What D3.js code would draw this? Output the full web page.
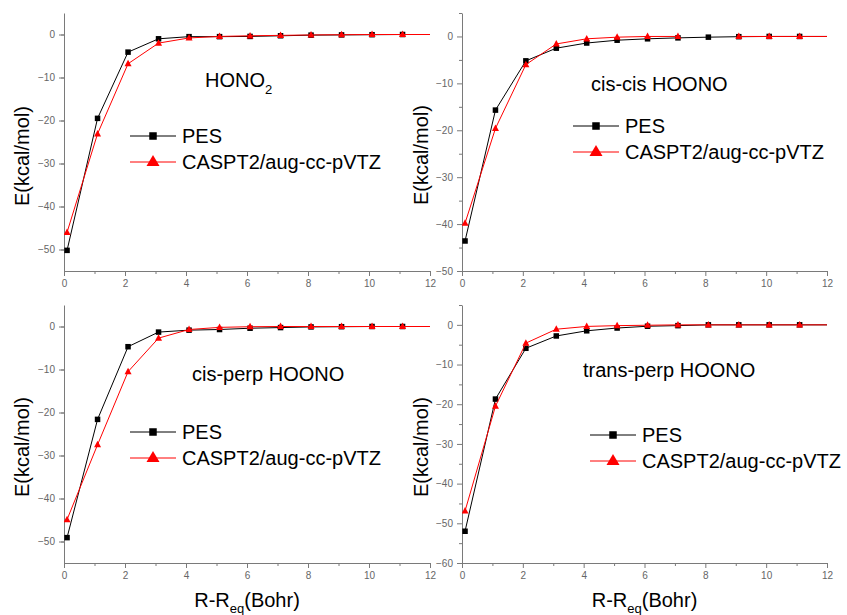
<!DOCTYPE html>
<html>
<head>
<meta charset="utf-8">
<script src="https://cdn.jsdelivr.net/npm/d3@7"></script>
<style>
  html, body { margin: 0; padding: 0; background: #fff; }
  svg { display: block; font-family: Arial, "Liberation Sans", sans-serif; }
</style>
</head>
<body>
<svg id="chart" width="847" height="615"></svg>
<script>
// Separation coordinate R - R_eq (Bohr); the last point lies just past the axis end.
const R = [0.1, 1.1, 2.1, 3.1, 4.1, 5.1, 6.1, 7.1, 8.1, 9.1, 10.1, 11.1, 12.1];

// Energies (kcal/mol): fitted PES vs CASPT2/aug-cc-pVTZ
const honoPES = [-50.2, -19.5, -4.1, -1.0, -0.5, -0.5, -0.45, -0.3, -0.15, -0.1, -0.05, 0, 0];
const honoCAS = [-46.0, -23.1, -6.8, -2.0, -0.8, -0.45, -0.3, -0.2, -0.1, -0.05, 0, 0, 0];
const ccPES   = [-43.6, -15.7, -5.2, -2.5, -1.4, -0.8, -0.5, -0.3, -0.15, -0.05, 0, 0, 0];
const ccCAS   = [-39.8, -19.6, -6.0, -1.6, -0.5, -0.15, 0, 0, null, 0, 0, 0, 0];
const cpPES   = [-49.1, -21.6, -4.7, -1.3, -0.85, -0.7, -0.4, -0.25, -0.1, -0.05, 0, 0, 0];
const cpCAS   = [-44.9, -27.5, -10.5, -2.7, -0.7, -0.2, -0.05, 0, 0, 0, 0, 0, 0];
const tpPES   = [-52.0, -18.7, -5.9, -2.8, -1.5, -0.8, -0.35, -0.2, 0, 0, 0, 0, 0];
const tpCAS   = [-46.9, -20.5, -4.6, -1.1, -0.4, -0.2, -0.1, 0, 0, 0, 0, 0, 0];

const seriesNames = ["PES", "CASPT2/aug-cc-pVTZ"];
const xTicks = [0, 2, 4, 6, 8, 10, 12];
const xDomain = [0, 12];

const panels = [
  { pes: honoPES, cas: honoCAS, yDomain: [-55, 5], yTicks: [0, -10, -20, -30, -40, -50],
    left: 64, right: 430, top: 13, bottom: 271,
    title: ["HONO", "2"], titleX: 205, titleY: 87,
    legX: 130, legY: 136, ylabX: 29, ylabY: 156, xlab: false },
  { pes: ccPES, cas: ccCAS, yDomain: [-50, 5], yTicks: [0, -10, -20, -30, -40, -50],
    left: 462, right: 827, top: 13, bottom: 271,
    title: ["cis-cis HOONO"], titleX: 591, titleY: 91,
    legX: 573, legY: 126, ylabX: 428, ylabY: 155, xlab: false },
  { pes: cpPES, cas: cpCAS, yDomain: [-55, 5], yTicks: [0, -10, -20, -30, -40, -50],
    left: 64, right: 430, top: 305, bottom: 563,
    title: ["cis-perp HOONO"], titleX: 192, titleY: 381,
    legX: 130, legY: 432, ylabX: 29, ylabY: 447, xlab: true },
  { pes: tpPES, cas: tpCAS, yDomain: [-60, 5], yTicks: [0, -10, -20, -30, -40, -50, -60],
    left: 462, right: 827, top: 305, bottom: 563,
    title: ["trans-perp HOONO"], titleX: 583, titleY: 377,
    legX: 590, legY: 435, ylabX: 428, ylabY: 447, xlab: true }
];

const svg = d3.select("#chart");
const AXIS = "#7a7a7a";
const TICKTXT = "#666";
const RED = "#ff0000";

const tri = (cx, cy, w, h) =>
  `M${cx},${cy - h * 0.6}L${cx + w / 2},${cy + h * 0.4}L${cx - w / 2},${cy + h * 0.4}Z`;

panels.forEach((p, i) => {
  const x = d3.scaleLinear().domain(xDomain).range([p.left, p.right]);
  const y = d3.scaleLinear().domain(p.yDomain).range([p.bottom, p.top]);
  const g = svg.append("g");

  // minor ticks
  const xMinor = d3.range(1, 12, 2);
  const yMinor = d3.range(p.yDomain[0] + 5, p.yDomain[1] + 1, 10);
  g.append("g").attr("transform", `translate(0,${p.bottom})`)
    .call(d3.axisBottom(x).tickValues(xMinor).tickSize(3).tickSizeOuter(0).tickFormat(""))
    .call(a => a.select(".domain").remove())
    .selectAll("line").attr("stroke", AXIS);
  g.append("g").attr("transform", `translate(${p.left},0)`)
    .call(d3.axisLeft(y).tickValues(yMinor).tickSize(3).tickSizeOuter(0).tickFormat(""))
    .call(a => a.select(".domain").remove())
    .selectAll("line").attr("stroke", AXIS);

  // major axes
  const xa = g.append("g").attr("transform", `translate(0,${p.bottom})`)
    .call(d3.axisBottom(x).tickValues(xTicks).tickSize(5).tickSizeOuter(0).tickPadding(4));
  const ya = g.append("g").attr("transform", `translate(${p.left},0)`)
    .call(d3.axisLeft(y).tickValues(p.yTicks).tickSize(5).tickSizeOuter(0).tickPadding(4));
  [xa, ya].forEach(a => {
    a.select(".domain").attr("stroke", AXIS);
    a.selectAll("line").attr("stroke", AXIS);
    a.selectAll("text").attr("fill", TICKTXT).style("font-size", "10px")
      .style("font-family", "Arial, 'Liberation Sans', sans-serif");
  });

  // clip for lines
  const clipId = "clip" + i;
  svg.append("clipPath").attr("id", clipId).append("rect")
    .attr("x", p.left).attr("y", p.top - 10)
    .attr("width", p.right - p.left).attr("height", p.bottom - p.top + 20);

  const line = d3.line()
    .defined(d => d[1] !== null)
    .x(d => x(d[0])).y(d => y(d[1]));

  const pesPts = R.map((r, k) => [r, p.pes[k]]);
  const casPts = R.map((r, k) => [r, p.cas[k]]);
  const inside = d => d[1] !== null && d[0] <= xDomain[1];

  const data = g.append("g").attr("clip-path", `url(#${clipId})`);
  data.append("path").datum(pesPts).attr("d", line)
    .attr("fill", "none").attr("stroke", "#000").attr("stroke-width", 1);
  data.selectAll(".sq").data(pesPts.filter(inside)).join("rect")
    .attr("x", d => x(d[0]) - 2.75).attr("y", d => y(d[1]) - 2.75)
    .attr("width", 5.5).attr("height", 5.5).attr("fill", "#000");
  data.append("path").datum(casPts).attr("d", line)
    .attr("fill", "none").attr("stroke", RED).attr("stroke-width", 1);
  data.selectAll(".tr").data(casPts.filter(inside)).join("path")
    .attr("d", d => tri(x(d[0]), y(d[1]), 7, 6.5)).attr("fill", RED);

  // panel title
  const t = g.append("text").attr("x", p.titleX).attr("y", p.titleY)
    .style("font-size", "20px").attr("fill", "#000").text(p.title[0]);
  if (p.title[1]) {
    t.append("tspan").attr("dy", 7).style("font-size", "13px").text(p.title[1]);
  }

  // legend
  const lg = g.append("g");
  const rows = [p.legY, p.legY + 26];
  lg.append("line").attr("x1", p.legX).attr("x2", p.legX + 46)
    .attr("y1", rows[0]).attr("y2", rows[0]).attr("stroke", "#000").attr("stroke-width", 1);
  lg.append("rect").attr("x", p.legX + 23 - 3.75).attr("y", rows[0] - 3.75)
    .attr("width", 7.5).attr("height", 7.5).attr("fill", "#000");
  lg.append("line").attr("x1", p.legX).attr("x2", p.legX + 46)
    .attr("y1", rows[1]).attr("y2", rows[1]).attr("stroke", RED).attr("stroke-width", 1);
  lg.append("path").attr("d", tri(p.legX + 23, rows[1] - 0.5, 13, 11)).attr("fill", RED);
  seriesNames.forEach((s, k) => {
    lg.append("text").attr("x", p.legX + 52).attr("y", rows[k] + 7)
      .style("font-size", "20px").attr("fill", "#000").text(s);
  });

  // axis titles
  g.append("text")
    .attr("transform", `translate(${p.ylabX},${p.ylabY}) rotate(-90)`)
    .attr("text-anchor", "middle").style("font-size", "20px").attr("fill", "#000")
    .text("E(kcal/mol)");
  if (p.xlab) {
    const xt = g.append("text").attr("x", (p.left + p.right) / 2).attr("y", 606.5)
      .attr("text-anchor", "middle").style("font-size", "20px").attr("fill", "#000");
    xt.append("tspan").text("R-R");
    xt.append("tspan").attr("dy", 6).style("font-size", "13px").text("eq");
    xt.append("tspan").attr("dy", -6).text("(Bohr)");
  }
});
</script>
</body>
</html>
